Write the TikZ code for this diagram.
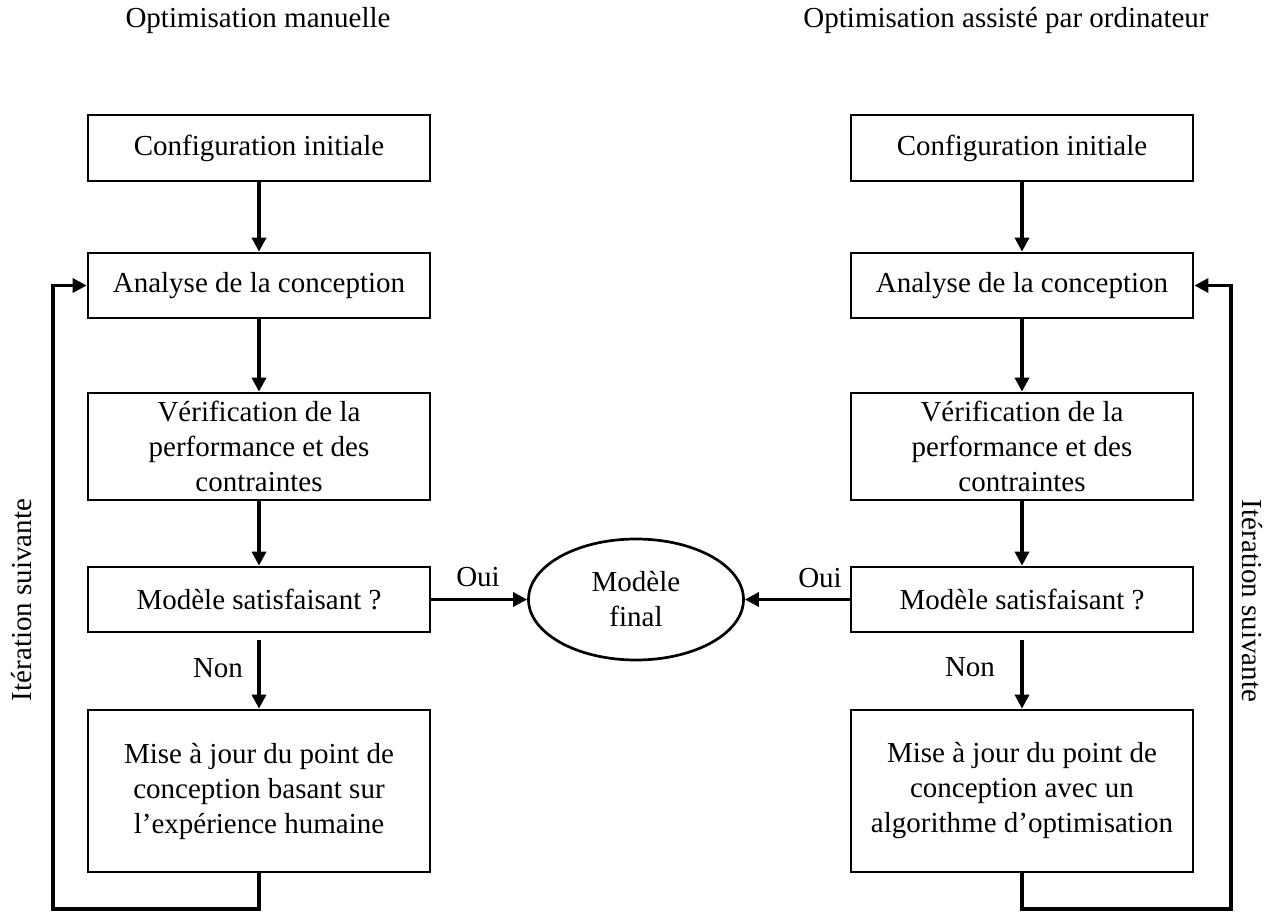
\documentclass[tikz,border=0pt]{standalone}
\usepackage{fontspec}
\setmainfont{Liberation Serif}
\usetikzlibrary{arrows.meta,shapes.geometric}
\begin{document}
\begin{tikzpicture}[x=1bp,y=-1bp,
  every node/.style={font=\fontsize{29bp}{35bp}\selectfont},
  box/.style={draw,line width=2.7bp,minimum width=342bp,inner sep=0pt,align=center},
  arr/.style={line width=3.3bp,-{Triangle[length=14bp,width=14bp]}},
  lbl/.style={inner sep=0pt}]
\useasboundingbox (0,0) rectangle (1276,912);
% titles
\node[lbl] (t1) at (258,21) {Optimisation manuelle};
\node[lbl] (t2) at (1006,21) {Optimisation assisté par ordinateur};
% left column
\node[box,minimum height=66bp] (lc) at (259,148) {Configuration initiale};
\node[box,minimum height=65bp] (la) at (259,285.5) {Analyse de la conception};
\node[box,minimum height=107bp] (lv) at (259,446.5) {Vérification de la\\performance et des\\contraintes};
\node[box,minimum height=65bp] (lm) at (259,599.5) {Modèle satisfaisant ?};
\node[box,minimum height=162bp] (lu) at (259,791) {Mise à jour du point de\\conception basant sur\\l’expérience humaine};
% right column
\node[box,minimum height=66bp] (rc) at (1022,148) {Configuration initiale};
\node[box,minimum height=65bp] (ra) at (1022,285.5) {Analyse de la conception};
\node[box,minimum height=107bp] (rv) at (1022,446.5) {Vérification de la\\performance et des\\contraintes};
\node[box,minimum height=65bp] (rm) at (1022,599.5) {Modèle satisfaisant ?};
\node[box,minimum height=162bp] (ru) at (1022,791) {Mise à jour du point de\\conception avec un\\algorithme d’optimisation};
% final
\node[draw,ellipse,line width=2.7bp,minimum width=215bp,minimum height=121bp,inner sep=0pt,align=center] (fin) at (636,599.5) {Modèle\\final};
% arrows left
\draw[arr] (lc.south) -- (la.north);
\draw[arr] (la.south) -- (lv.north);
\draw[arr] (lv.south) -- (lm.north);
\draw[arr,shorten <=7bp] (lm.south) -- (lu.north);
\draw[arr] (lm.east) -- (fin.west);
% arrows right
\draw[arr] (rc.south) -- (ra.north);
\draw[arr] (ra.south) -- (rv.north);
\draw[arr] (rv.south) -- (rm.north);
\draw[arr,shorten <=7bp] (rm.south) -- (ru.north);
\draw[arr] (rm.west) -- (fin.east);
% feedback loops
\coordinate (lb) at (53,909);
\coordinate (rb) at (1231,909);
\draw[arr] (lu.south) |- (lb) |- (la.west);
\draw[arr] (ru.south) |- (rb) |- (ra.east);
% labels
\node[lbl] (oui1) at (478,577) {Oui};
\node[lbl] (oui2) at (820,578) {Oui};
\node[lbl] (non1) at (218,668) {Non};
\node[lbl] (non2) at (970,667) {Non};
\node[lbl,rotate=90] (it1) at (22,600) {Itération suivante};
\node[lbl,rotate=-90] (it2) at (1252,601) {Itération suivante};
\end{tikzpicture}
\end{document}
